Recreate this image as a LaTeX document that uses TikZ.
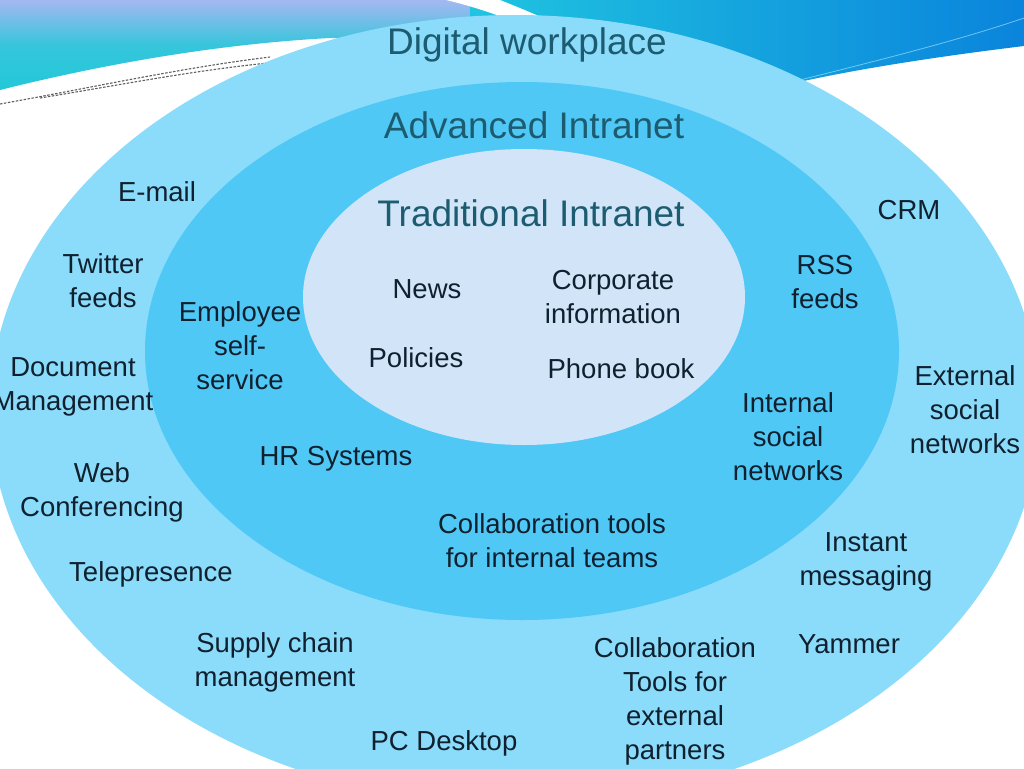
\documentclass[tikz,border=0pt]{standalone}
\usepackage{fontspec}
\setmainfont{Liberation Sans}
\definecolor{outerc}{HTML}{8ADCFA}
\definecolor{midc}{HTML}{50C8F6}
\definecolor{innerc}{HTML}{D2E5F8}
\definecolor{titlec}{HTML}{1D5C70}
\definecolor{bodyc}{HTML}{10202E}
\definecolor{tealc}{HTML}{22C8D8}
\definecolor{cyanc}{HTML}{20C4E0}
\definecolor{bluec}{HTML}{0A84DC}
\definecolor{lavc}{HTML}{A4B8F2}
\begin{document}
\begin{tikzpicture}[x=1pt,y=-1pt,
  lbl/.style={text=bodyc,inner sep=0pt,align=center,font=\fontsize{27.5}{34}\selectfont},
  ttl/.style={text=titlec,inner sep=0pt,align=center,font=\fontsize{37}{44}\selectfont},
  dashln/.style={draw=gray!75!black,dash pattern=on 2.5pt off 1.5pt,line width=1.1pt}]
\useasboundingbox (0,0) rectangle (1024,768);
\fill[white] (0,0) rectangle (1024,768);
% top decorative band, left part
\path[top color=lavc,bottom color=tealc,middle color=tealc!85!lavc]
  (0,0) -- (480,0) -- (480,40) -- (330,38)
  .. controls (200,45) and (80,70) .. (0,90) -- cycle;
% top decorative band, right part
\path[left color=cyanc,right color=bluec]
  (470,0) -- (1024,0) -- (1024,46)
  .. controls (950,55) and (860,68) .. (790,84)
  .. controls (700,60) and (600,40) .. (470,40) -- cycle;
% white swoosh
\fill[white] (446,0) -- (500,0) .. controls (520,8) and (545,18) .. (572,32)
  -- (548,38) .. controls (520,22) and (480,8) .. (446,0) -- cycle;
% dashed lines
\path[dashln] (0,104) .. controls (90,88) and (180,68) .. (270,57);
\path[dashln] (40,98) .. controls (120,85) and (190,71) .. (268,63);
\draw[cyan!40,line width=0.8pt,opacity=0.7] (800,80) .. controls (880,60) and (960,40) .. (1024,18);
% ellipses
\fill[outerc] (515,410) ellipse [x radius=525, y radius=395];
\fill[midc] (522,351) ellipse [x radius=377, y radius=269];
\fill[innerc] (524,297) ellipse [x radius=221, y radius=148];
% titles
\node[ttl] (dw) at (527,45) {Digital workplace};
\node[ttl] (ai) at (534,125) {Advanced Intranet};
\node[ttl] (ti) at (531,213) {Traditional Intranet};
% outer ring
\node[lbl] (email) at (157,192) {E-mail};
\node[lbl] (twit) at (103,281) {Twitter\\feeds};
\node[lbl] (doc) at (73,387) {Document\\Management};
\node[lbl] (web) at (102,492) {Web\\Conferencing};
\node[lbl] (tele) at (151,574) {Telepresence};
\node[lbl] (supply) at (275,662) {Supply chain\\management};
\node[lbl] (pc) at (444,743) {PC Desktop};
\node[lbl] (collext) at (675,701) {Collaboration\\Tools for\\external\\partners};
\node[lbl] (yam) at (849,644) {Yammer};
\node[lbl] (im) at (866,562) {Instant\\messaging};
\node[lbl] (ext) at (965,410) {External\\social\\networks};
\node[lbl] (crm) at (909,210) {CRM};
% middle ring
\node[lbl] (ess) at (240,346) {Employee\\self-\\service};
\node[lbl] (hr) at (336,459) {HR Systems};
\node[lbl] (collint) at (552,541) {Collaboration tools\\for internal teams};
\node[lbl] (isn) at (788,437) {Internal\\social\\networks};
\node[lbl] (rss) at (825,282) {RSS\\feeds};
% inner
\node[lbl] (news) at (427,289) {News};
\node[lbl] (corp) at (613,297) {Corporate\\information};
\node[lbl] (pol) at (416,358) {Policies};
\node[lbl] (phone) at (621,369) {Phone book};
\end{tikzpicture}
\end{document}
